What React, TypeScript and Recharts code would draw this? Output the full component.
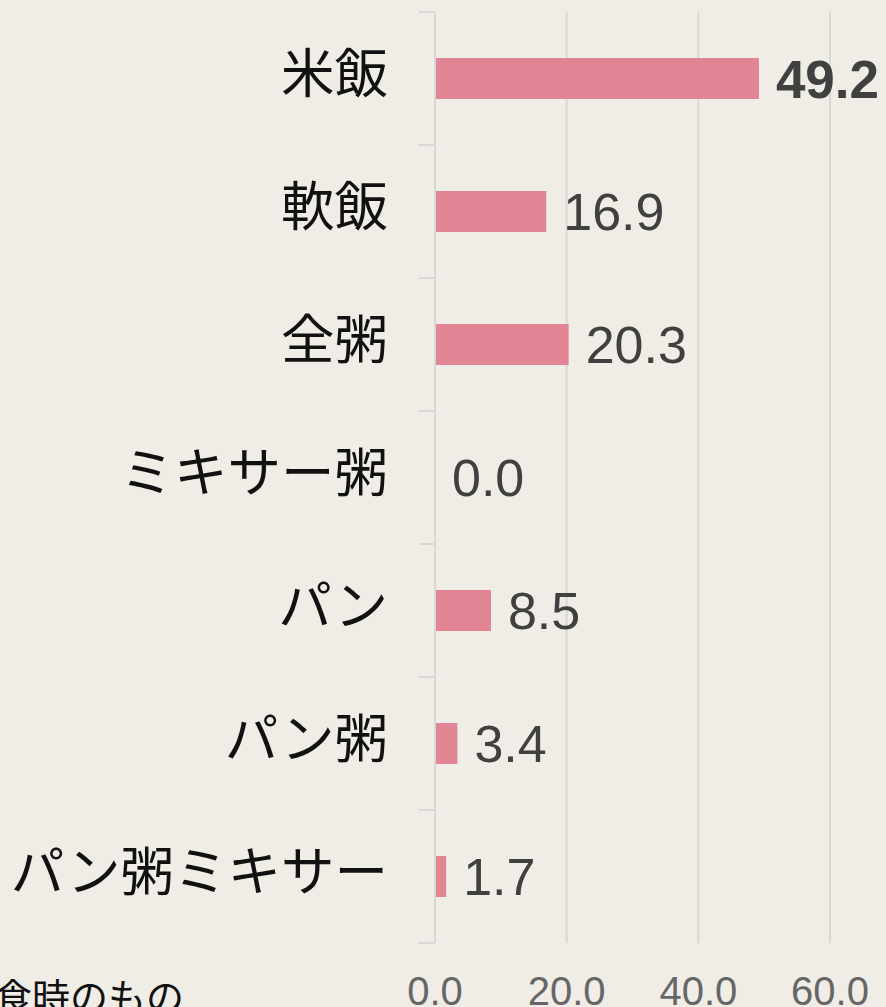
import React from 'react';
import { BarChart, Bar, XAxis, YAxis, CartesianGrid, LabelList } from 'recharts';

// 主食の種類別の割合(%)
const categories = ['米飯', '軟飯', '全粥', 'ミキサー粥', 'パン', 'パン粥', 'パン粥ミキサー'];
const values = [49.2, 16.9, 20.3, 0.0, 8.5, 3.4, 1.7];
const xTicks = [0, 20, 40, 60];

const data = categories.map((name, i) => ({ name, value: values[i] }));

const BG = '#EFEDE5';
const BAR = '#E18493';
const GRID = '#D8D8D6';
const AXIS_X = 435;

const CategoryTick = (props: any) => {
  const { x, y, payload, index, visibleTicksCount } = props;
  const top = payload.coordinate - payload.offset;
  const bottom = payload.coordinate + payload.offset;
  return (
    <g>
      <line x1={AXIS_X - 16} x2={AXIS_X} y1={top} y2={top} stroke={GRID} strokeWidth={2} />
      {index === visibleTicksCount - 1 && (
        <line x1={AXIS_X - 16} x2={AXIS_X} y1={bottom} y2={bottom} stroke={GRID} strokeWidth={2} />
      )}
      <text
        x={x}
        y={y - 5}
        dy="0.36em"
        textAnchor="end"
        fill="#111"
        fontSize={53.5}
        fontFamily="'Noto Sans CJK JP', sans-serif"
      >
        {payload.value}
      </text>
    </g>
  );
};

const ValueLabel = (props: any) => {
  const { x, y, width, height, value, index } = props;
  const bold = index === 0;
  return (
    <text
      x={x + width + 17}
      y={y + height / 2}
      dy="0.36em"
      fill="#404040"
      fontSize={bold ? 53 : 52}
      fontWeight={bold ? 700 : 400}
      fontFamily="'Liberation Sans', Arial, sans-serif"
    >
      {Number(value).toFixed(1)}
    </text>
  );
};

export default function App() {
  return (
    <div style={{ position: 'absolute', left: 0, top: 0, width: 886, height: 1007, background: BG, overflow: 'hidden' }}>
      <BarChart
        width={886}
        height={1007}
        data={data}
        layout="vertical"
        margin={{ top: 12, right: 56, bottom: 0, left: 0 }}
      >
        <CartesianGrid horizontal={false} stroke={GRID} strokeWidth={2} />
        <XAxis
          type="number"
          domain={[0, 60]}
          ticks={xTicks}
          axisLine={false}
          tickLine={false}
          tickMargin={28}
          height={64}
          tickFormatter={(v: number) => v.toFixed(1)}
          tick={{ fill: '#666', fontSize: 40, fontFamily: "'Liberation Sans', Arial, sans-serif" }}
          interval={0}
        />
        <YAxis
          type="category"
          dataKey="name"
          width={435}
          axisLine={{ stroke: GRID, strokeWidth: 2 }}
          tickLine={false}
          tickMargin={41}
          tick={<CategoryTick />}
          interval={0}
        />
        <Bar
          dataKey="value"
          fill={BAR}
          barSize={41}
          minPointSize={(v: number) => (v === 0 ? 0.01 : 0)}
          isAnimationActive={false}
        >
          <LabelList dataKey="value" content={<ValueLabel />} />
        </Bar>
      </BarChart>
      <div
        style={{
          position: 'absolute',
          left: -6,
          top: 971,
          fontSize: 38,
          lineHeight: '48px',
          color: '#111',
          fontFamily: "'Noto Sans CJK JP', sans-serif",
          whiteSpace: 'nowrap',
        }}
      >
        食時のもの
      </div>
    </div>
  );
}
